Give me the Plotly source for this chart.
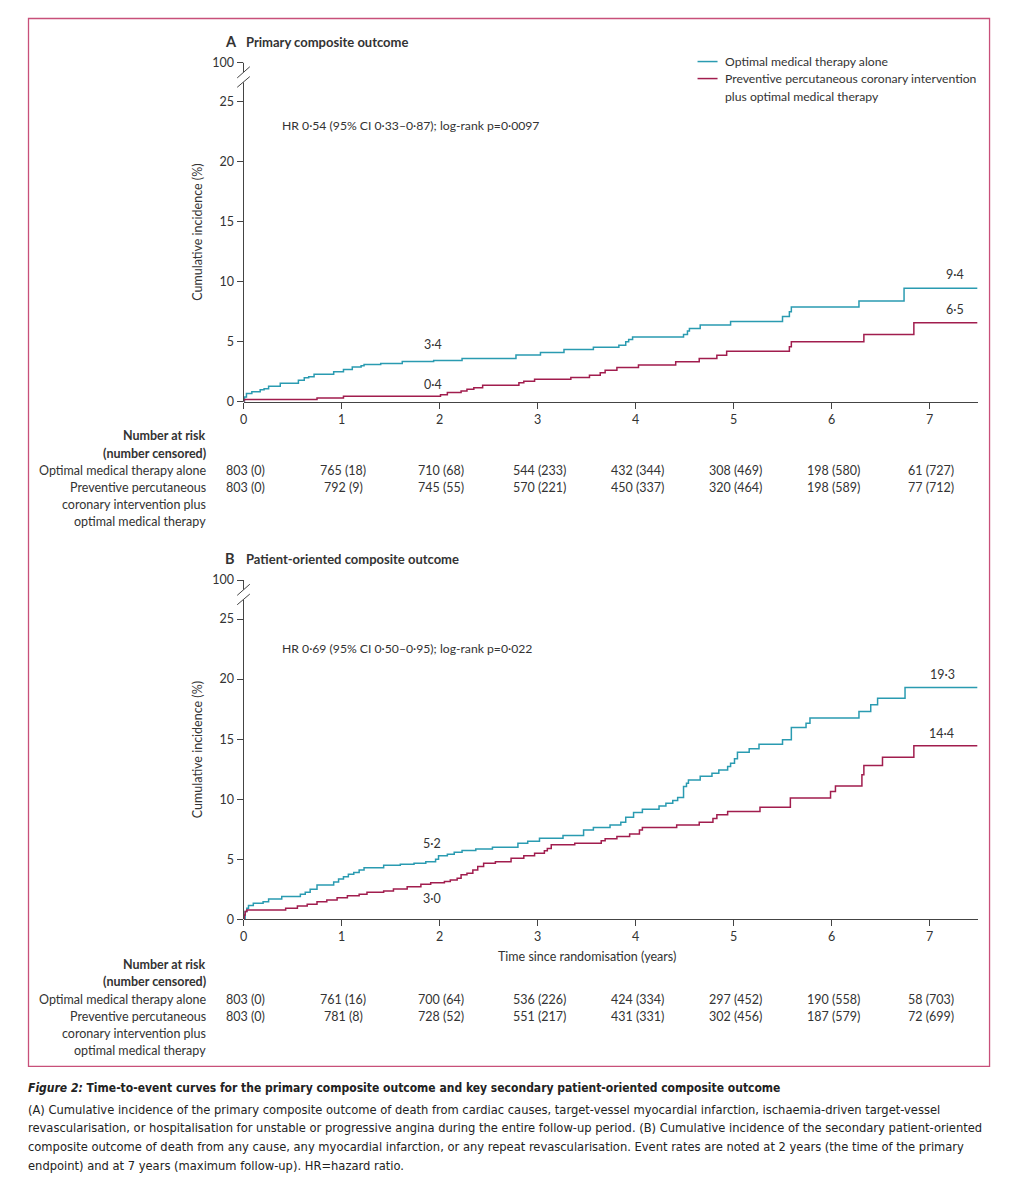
import plotly.graph_objects as go

W, H = 1013, 1197
FONT = "Lato"
CAP_FONT = "DejaVu Sans Condensed, Roboto, sans-serif"
TEXT = "#333333"
TEAL = "#2a9bb1"
CRIMSON = "#a11d4e"
AXIS = "#444444"
BORDER = "#c8507a"

# ---------------- data ----------------
years = [0, 1, 2, 3, 4, 5, 6, 7]
x_max = 7.49
y_tick_vals = [0, 5, 10, 15, 20, 25]
y_tick_text = ["0", "5", "10", "15", "20", "25"]
y_top = 28.25          # axis position of the broken "100" tick
y_top_label = "100"

series_names = ["Optimal medical therapy alone",
                "Preventive percutaneous coronary intervention<br>plus optimal medical therapy"]

# Panel A – primary composite outcome
omt_a_t = [0, 0.01, 0.03, 0.085, 0.17, 0.21, 0.256, 0.375, 0.56, 0.62, 0.665, 0.72, 0.92, 1.02, 1.11,
           1.2, 1.23, 1.40, 1.62, 1.94, 2.23, 2.78, 3.03, 3.27, 3.57, 3.83, 3.90, 3.93, 3.97, 4.49,
           4.53, 4.55, 4.66, 4.97, 5.50, 5.57, 5.59, 6.28, 6.74, 7.49]
omt_a_v = [0, 0.4, 0.7, 0.85, 1.0, 1.1, 1.3, 1.55, 1.8, 2.0, 2.1, 2.3, 2.5, 2.7, 2.9,
           3.0, 3.1, 3.2, 3.35, 3.45, 3.6, 3.9, 4.1, 4.35, 4.55, 4.72, 5.0, 5.2, 5.4, 5.6,
           5.9, 6.1, 6.4, 6.7, 7.1, 7.5, 7.9, 8.4, 9.45, 9.45]
pci_a_t = [0, 0.005, 0.75, 1.02, 2.01, 2.08, 2.22, 2.28, 2.35, 2.44, 2.81, 2.86, 2.97, 3.34,
           3.53, 3.64, 3.69, 3.81, 4.03, 4.41, 4.65, 4.83, 4.93, 5.57, 5.59, 6.33, 6.84, 7.49]
pci_a_v = [0, 0.2, 0.33, 0.47, 0.6, 0.78, 0.9, 1.05, 1.17, 1.39, 1.58, 1.72, 1.89, 2.03,
           2.22, 2.42, 2.64, 2.86, 3.06, 3.33, 3.61, 3.89, 4.22, 4.58, 5.0, 5.61, 6.58, 6.58]

# Panel B – patient-oriented composite outcome
omt_b_t = [0, 0.017, 0.034, 0.051, 0.10, 0.20, 0.256, 0.39, 0.58, 0.63, 0.68, 0.75, 0.92, 0.97,
           1.02, 1.07, 1.125, 1.18, 1.23, 1.43, 1.60, 1.74, 1.86, 1.96, 1.99, 2.08, 2.15, 2.23,
           2.37, 2.54, 2.80, 2.90, 3.02, 3.26, 3.47, 3.57, 3.74, 3.85, 3.90, 3.98, 4.07, 4.24,
           4.31, 4.38, 4.43, 4.49, 4.52, 4.54, 4.66, 4.78, 4.85, 4.94, 4.97, 5.01, 5.04, 5.16,
           5.26, 5.50, 5.59, 5.74, 5.78, 6.28, 6.40, 6.47, 6.75, 7.49]
omt_b_v = [0, 0.64, 0.92, 1.14, 1.33, 1.47, 1.7, 1.9, 2.08, 2.25, 2.5, 2.85, 3.1, 3.36,
           3.55, 3.75, 3.9, 4.1, 4.3, 4.5, 4.58, 4.67, 4.8, 5.0, 5.3, 5.42, 5.58, 5.72,
           5.86, 6.0, 6.33, 6.5, 6.75, 6.97, 7.44, 7.64, 7.86, 8.08, 8.5, 8.9, 9.17, 9.44,
           9.67, 9.9, 10.14, 11.06, 11.33, 11.6, 11.9, 12.17, 12.44, 12.72, 13.0, 13.36, 13.9, 14.2,
           14.58, 14.94, 15.97, 16.33, 16.75, 17.3, 17.86, 18.4, 19.3, 19.3]
pci_b_t = [0, 0.007, 0.017, 0.034, 0.43, 0.55, 0.65, 0.75, 0.85, 0.955, 1.06, 1.18, 1.26, 1.43,
           1.53, 1.67, 1.81, 1.91, 2.05, 2.11, 2.18, 2.22, 2.28, 2.34, 2.39, 2.45, 2.57, 2.73,
           2.86, 2.97, 3.07, 3.10, 3.14, 3.38, 3.65, 3.69, 3.81, 3.94, 4.04, 4.07, 4.42, 4.65,
           4.79, 4.83, 4.94, 5.27, 5.58, 5.99, 6.04, 6.31, 6.33, 6.52, 6.84, 7.49]
pci_b_v = [0, 0.36, 0.64, 0.78, 0.92, 1.11, 1.25, 1.47, 1.6, 1.8, 1.97, 2.08, 2.25, 2.36,
           2.53, 2.72, 2.92, 3.05, 3.14, 3.28, 3.42, 3.7, 3.83, 4.1, 4.4, 4.67, 4.8, 5.08,
           5.3, 5.5, 5.7, 5.9, 6.2, 6.33, 6.53, 6.7, 6.9, 7.1, 7.44, 7.64, 7.86, 8.08,
           8.4, 8.7, 8.97, 9.33, 10.1, 10.64, 11.1, 12.03, 12.8, 13.5, 14.45, 14.45]

# Event-rate labels: (text, year, value)
labels_a = [("3·4", 1.93, 4.75), ("0·4", 1.93, 1.45), ("9·4", 7.26, 10.6), ("6·5", 7.26, 7.7)]
labels_b = [("5·2", 1.92, 6.3), ("3·0", 1.92, 1.75), ("19·3", 7.13, 20.4), ("14·4", 7.12, 15.5)]

# Number at risk (number censored)
risk_a_omt = ["803 (0)", "765 (18)", "710 (68)", "544 (233)", "432 (344)", "308 (469)", "198 (580)", "61 (727)"]
risk_a_pci = ["803 (0)", "792 (9)", "745 (55)", "570 (221)", "450 (337)", "320 (464)", "198 (589)", "77 (712)"]
risk_b_omt = ["803 (0)", "761 (16)", "700 (64)", "536 (226)", "424 (334)", "297 (452)", "190 (558)", "58 (703)"]
risk_b_pci = ["803 (0)", "781 (8)", "728 (52)", "551 (217)", "431 (331)", "302 (456)", "187 (579)", "72 (699)"]

title_a = "Primary composite outcome"
title_b = "Patient-oriented composite outcome"
hr_a = "HR 0·54 (95% CI 0·33–0·87); log-rank p=0·0097"
hr_b = "HR 0·69 (95% CI 0·50–0·95); log-rank p=0·022"
y_title = "Cumulative incidence (%)"
x_title = "Time since randomisation (years)"
risk_head = ["<b>Number at risk</b>", "<b>(number censored)</b>"]
risk_rows = ["Optimal medical therapy alone", "Preventive percutaneous",
             "coronary intervention plus", "optimal medical therapy"]
caption_lines = [
    "<b><i>Figure 2:</i> Time-to-event curves for the primary composite outcome and key secondary patient-oriented composite outcome</b>",
    "(A) Cumulative incidence of the primary composite outcome of death from cardiac causes, target-vessel myocardial infarction, ischaemia-driven target-vessel",
    "revascularisation, or hospitalisation for unstable or progressive angina during the entire follow-up period. (B) Cumulative incidence of the secondary patient-oriented",
    "composite outcome of death from any cause, any myocardial infarction, or any repeat revascularisation. Event rates are noted at 2 years (the time of the primary",
    "endpoint) and at 7 years (maximum follow-up). HR=hazard ratio.",
]

# ---------------- helpers ----------------
# screen calibration of the captured page
V_SCALE, V_OFF = 0.9866, 7.5
H_SCALE, H_OFF = 0.996, 3.5


def px(x):
    return ((x - H_OFF) / H_SCALE) / W


def py(y):
    return 1 - ((y - V_OFF) / V_SCALE) / H


X0, X1 = 243, 977
panels = [
    dict(xa="x", ya="y", top=62, bottom=401, omt=(omt_a_t, omt_a_v), pci=(pci_a_t, pci_a_v),
         letter="A", title=title_a, title_y=41, hr=hr_a, hr_y=125, labels=labels_a,
         risk_y=435, risk=(risk_a_omt, risk_a_pci)),
    dict(xa="x2", ya="y2", top=579, bottom=918, omt=(omt_b_t, omt_b_v), pci=(pci_b_t, pci_b_v),
         letter="B", title=title_b, title_y=558, hr=hr_b, hr_y=647, labels=labels_b,
         risk_y=963, risk=(risk_b_omt, risk_b_pci)),
]

fig = go.Figure()
annotations = []
shapes = []


def ann(text, x, y, xanchor="left", size=12.5, color=TEXT, family=FONT, xref="paper", yref="paper",
        textangle=0):
    annotations.append(dict(text=text, x=x, y=y, xref=xref, yref=yref, xanchor=xanchor,
                            yanchor="middle", showarrow=False, textangle=textangle,
                            font=dict(family=family, size=size, color=color)))


axis_common = dict(showgrid=False, zeroline=False, ticks="outside", ticklen=6, tickwidth=1,
                   tickcolor=AXIS, tickfont=dict(family=FONT, size=12.5, color=TEXT), fixedrange=True)

layout_axes = {}
for i, p in enumerate(panels):
    sfx = "" if i == 0 else str(i + 1)
    for (t, v), col in ((p["omt"], TEAL), (p["pci"], CRIMSON)):
        fig.add_trace(go.Scatter(x=t, y=v, mode="lines", xaxis=p["xa"], yaxis=p["ya"],
                                 line=dict(color=col, width=1.5, shape="hv"),
                                 showlegend=False, hoverinfo="skip"))
    layout_axes["xaxis" + sfx] = dict(axis_common, domain=[px(X0), px(X1)], range=[0, x_max],
                                      anchor=p["ya"], tickvals=years, showline=True,
                                      linecolor=AXIS, linewidth=1)
    layout_axes["yaxis" + sfx] = dict(axis_common, domain=[py(p["bottom"]), py(p["top"])],
                                      range=[0, y_top], anchor=p["xa"],
                                      tickvals=y_tick_vals + [y_top],
                                      ticktext=y_tick_text + [y_top_label], showline=False)
    # broken y axis line
    shapes.append(dict(type="line", xref="paper", yref=p["ya"], x0=px(X0), x1=px(X0), y0=0, y1=26.6,
                       line=dict(color=AXIS, width=1)))
    shapes.append(dict(type="line", xref="paper", yref=p["ya"], x0=px(X0), x1=px(X0), y0=27.45, y1=y_top,
                       line=dict(color=AXIS, width=1)))
    for (ya0, ya1) in ((26.97, 27.9), (26.19, 27.08)):
        shapes.append(dict(type="line", xref="paper", yref=p["ya"], x0=px(236.7), x1=px(249.3),
                           y0=ya0, y1=ya1, line=dict(color=AXIS, width=1)))
    # titles
    ann("<b>" + p["letter"] + "</b>", px(222), py(p["title_y"]), size=14.5)
    ann("<b>" + p["title"] + "</b>", px(243), py(p["title_y"]), size=13)
    ann(p["hr"], px(279), py(p["hr_y"]), size=12.2)
    ann(y_title, px(197), py((p["top"] + p["bottom"]) / 2), xanchor="center", size=12.5, textangle=-90)
    for text, xv, yv in p["labels"]:
        ann(text, xv, yv, xanchor="center", size=12.5, xref=p["xa"], yref=p["ya"])
    # number at risk
    r0 = p["risk_y"]
    ann(risk_head[0], px(207), py(r0), xanchor="right")
    ann(risk_head[1], px(207), py(r0 + 17.5), xanchor="right")
    for k, row in enumerate(risk_rows):
        ann(row, px(207), py(r0 + 35 + 17 * k), xanchor="right")
    for yr, a_txt, b_txt in zip(years, p["risk"][0], p["risk"][1]):
        ann(a_txt, yr + 0.02, py(r0 + 35), xanchor="center", xref=p["xa"])
        ann(b_txt, yr + 0.02, py(r0 + 52), xanchor="center", xref=p["xa"])

ann(x_title, px(586), py(955), xanchor="center", size=12.5)

# legend
for k, (name, col, yy) in enumerate(((series_names[0], TEAL, 61), (series_names[1], CRIMSON, 78))):
    shapes.append(dict(type="line", xref="paper", yref="paper", x0=px(697), x1=px(717), y0=py(yy), y1=py(yy),
                       line=dict(color=col, width=1.5)))
ann(series_names[0], px(722), py(61), size=12.2)
ann("Preventive percutaneous coronary intervention", px(722), py(78), size=12.2)
ann("plus optimal medical therapy", px(722), py(95.5), size=12.2)

# frame
shapes.append(dict(type="rect", xref="paper", yref="paper", x0=px(28), x1=px(989), y0=py(1065), y1=py(18),
                   line=dict(color=BORDER, width=1.3)))

# caption
cap_y = [1087, 1108, 1126.5, 1145, 1163.5]
for k, (line, yy) in enumerate(zip(caption_lines, cap_y)):
    ann(line, px(25), py(yy), size=12 if k == 0 else 12.8, family=CAP_FONT, color="#222222")

fig.update_layout(width=W, height=H, margin=dict(l=0, r=0, t=0, b=0),
                  paper_bgcolor="white", plot_bgcolor="white",
                  annotations=annotations, shapes=shapes, showlegend=False, **layout_axes)

fig.write_html("out.html", config={"displayModeBar": False},
               post_script="document.body.style.margin='0px';document.body.style.overflow='hidden';")
